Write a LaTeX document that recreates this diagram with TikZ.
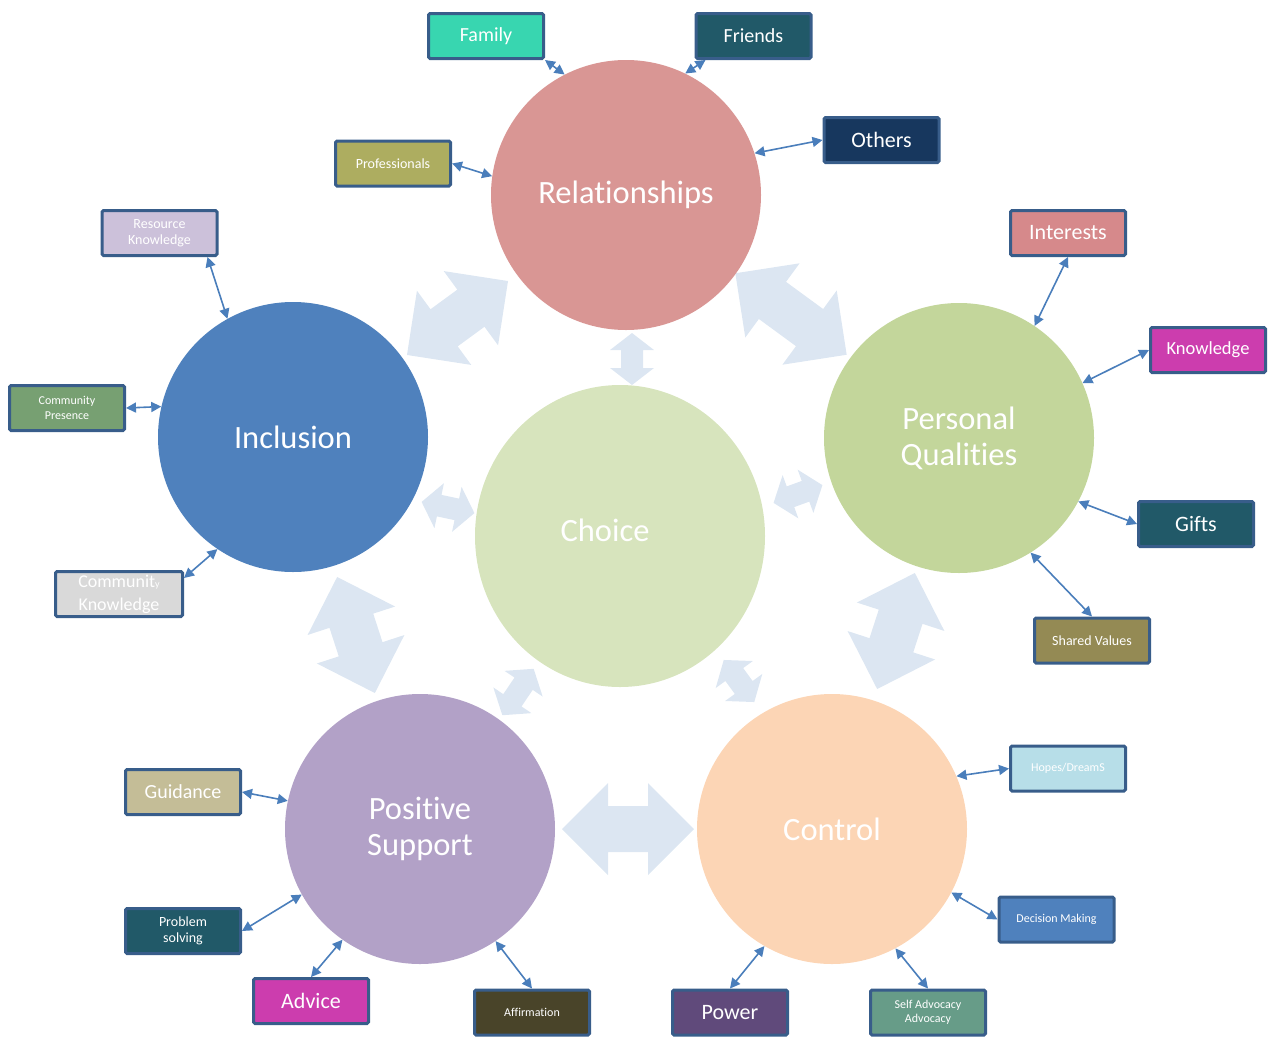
\documentclass[tikz,border=0pt]{standalone}
\usepackage{fontspec}
\setmainfont{Carlito}[Ligatures={NoCommon,NoContextual,NoRare}]
\usetikzlibrary{shapes.geometric,arrows.meta,calc}
\definecolor{relc}{HTML}{D99694}
\definecolor{choicec}{HTML}{D7E4BD}
\definecolor{pqc}{HTML}{C3D69B}
\definecolor{inclc}{HTML}{4F81BD}
\definecolor{posc}{HTML}{B2A1C7}
\definecolor{ctrlc}{HTML}{FCD5B5}
\definecolor{arrowc}{HTML}{DCE6F2}
\definecolor{bordc}{HTML}{385D8A}
\definecolor{connc}{HTML}{4A7EBB}
\definecolor{familyc}{HTML}{38D6B0}
\definecolor{tealc}{HTML}{215968}
\definecolor{navyc}{HTML}{17375E}
\definecolor{olivec}{HTML}{ADAD60}
\definecolor{lavc}{HTML}{CCC1DA}
\definecolor{cpc}{HTML}{77A072}
\definecolor{grayc}{HTML}{D9D9D9}
\definecolor{interc}{HTML}{D6898B}
\definecolor{magc}{HTML}{CC3DAE}
\definecolor{khakic}{HTML}{948A54}
\definecolor{lbluec}{HTML}{B7DEE8}
\definecolor{decc}{HTML}{4F81BD}
\definecolor{sagec}{HTML}{679C88}
\definecolor{purpc}{HTML}{604A7B}
\definecolor{brownc}{HTML}{494429}
\definecolor{guidc}{HTML}{C4BD97}
\newcommand{\blockarrow}[7]{%
  \begin{scope}[shift={(#1,#2)},rotate=#3]
    \fill[arrowc] (-#4,0) -- ({-#4+#5},#6) -- ({-#4+#5},#7) -- ({#4-#5},#7) -- ({#4-#5},#6) -- (#4,0)
      -- ({#4-#5},-#6) -- ({#4-#5},-#7) -- ({-#4+#5},-#7) -- ({-#4+#5},-#6) -- cycle;
  \end{scope}}
\tikzset{
  circ/.style={circle, minimum size=270pt, inner sep=0pt, text=white, align=center,
    font=\fontsize{32.5}{36}\selectfont},
  box/.style={draw=bordc, line width=3pt, rounded corners=1.5pt, minimum width=115pt,
    minimum height=45pt, inner sep=1pt, text=white, align=center},
  big/.style={box, font=\fontsize{21}{24}\selectfont},
  mid/.style={box, font=\fontsize{14}{16.5}\selectfont},
  sml/.style={box, font=\fontsize{12}{14.5}\selectfont},
  conn/.style={draw=connc, line width=1.6pt, {Triangle[length=10pt,width=10pt]}-{Triangle[length=10pt,width=10pt]}}
}
\begin{document}
\begin{tikzpicture}[x=1pt,y=-1pt]
\useasboundingbox (0,0) rectangle (1270,1037);
% block arrows
\blockarrow{457.5}{318}{36.2}{62.6}{46}{46}{23}
\blockarrow{791}{314}{-36.2}{69}{46}{46}{23}
\blockarrow{632}{359}{90}{26}{17}{22}{11}
\blockarrow{448}{507.5}{-12}{27}{18}{23}{11}
\blockarrow{798}{494}{20}{26}{18}{23}{11}
\blockarrow{356}{635}{-72}{61}{46}{46}{23}
\blockarrow{518}{692}{56}{28}{18}{23}{11}
\blockarrow{739}{681}{-54}{26}{18}{23}{11}
\blockarrow{896}{631}{72}{61}{46}{46}{23}
\blockarrow{628}{829}{0}{66}{46}{46}{23}
% circles
\node[circ, fill=relc] (rel) at (626,195) {Relationships};
\node[ellipse, minimum width=290pt, minimum height=302pt, inner sep=0pt, fill=choicec] (choice) at (620,536) {};
\node[text=white, font=\fontsize{32.5}{36}\selectfont, inner sep=0pt] (choicetxt) at (605,530) {Choice};
\node[circ, fill=pqc] (pq) at (959,438) {Personal\\Qualities};
\node[circ, fill=inclc] (incl) at (293,437) {Inclusion};
\node[circ, fill=posc] (pos) at (420,829) {Positive\\Support};
\node[circ, fill=ctrlc] (ctrl) at (832,829) {Control};
% boxes
\node[big, fill=familyc, font=\fontsize{20}{24}\selectfont] (family) at (486,36) {Family};
\node[big, fill=tealc, font=\fontsize{20}{24}\selectfont] (friends) at (753.5,36) {Friends};
\node[big, fill=navyc, font=\fontsize{22}{24}\selectfont] (others) at (881.5,140) {Others};
\node[mid, fill=olivec] (prof) at (393,163.5) {Professionals};
\node[mid, fill=lavc] (res) at (159.5,233) {Resource\\Knowledge};
\node[sml, fill=cpc] (cpres) at (67,408) {Community\\Presence};
\node[box, fill=grayc, minimum width=127pt, font=\fontsize{18}{23}\selectfont] (cknow) at (119,594) {Communit{\fontsize{10}{10}\selectfont y}\\Knowledge};
\node[big, fill=interc, font=\fontsize{22}{24}\selectfont] (inter) at (1068,233) {Interests};
\node[big, fill=magc, font=\fontsize{18.5}{24}\selectfont] (know) at (1208,350) {Knowledge};
\node[big, fill=tealc, font=\fontsize{22}{24}\selectfont] (gifts) at (1196,524) {Gifts};
\node[mid, fill=khakic] (shared) at (1092,640.5) {Shared Values};
\node[sml, fill=lbluec] (hopes) at (1068,768.5) {Hopes/DreamS};
\node[sml, fill=decc] (dec) at (1056.5,919.5) {Decision Making};
\node[sml, fill=sagec] (selfadv) at (928,1012.5) {Self Advocacy\\Advocacy};
\node[big, fill=purpc, font=\fontsize{22}{24}\selectfont] (power) at (730,1012.5) {Power};
\node[sml, fill=brownc] (affirm) at (532,1012.5) {Affirmation};
\node[big, fill=magc, font=\fontsize{22}{24}\selectfont] (advice) at (311,1001) {Advice};
\node[mid, fill=tealc] (probs) at (183,931) {Problem\\solving};
\node[big, fill=guidc, font=\fontsize{20}{24}\selectfont] (guid) at (183,792) {Guidance};
% connectors
\draw[conn] (family.south east) -- (rel.117);
\draw[conn] ([xshift=11pt]friends.south west) -- (rel.64);
\draw[conn] (others.west) -- (rel.18);
\draw[conn] (prof.east) -- (rel.172);
\draw[conn] ([xshift=-11pt]res.south east) -- (incl.119);
\draw[conn] (cpres.east) -- (incl.167);
\draw[conn] ([yshift=-8pt]cknow.north east) -- (incl.236);
\draw[conn] (inter.south) -- (pq.56);
\draw[conn] (know.west) -- (pq.24);
\draw[conn] (gifts.west) -- (pq.-28);
\draw[conn] (shared.north) -- (pq.-58);
\draw[conn] (hopes.west) -- (ctrl.23);
\draw[conn] (dec.west) -- (ctrl.-28);
\draw[conn] (selfadv.north) -- (ctrl.-62);
\draw[conn] (power.north) -- (ctrl.240);
\draw[conn] (affirm.north) -- (pos.-56);
\draw[conn] (advice.north) -- (pos.235);
\draw[conn] (probs.east) -- (pos.209);
\draw[conn] (guid.east) -- (pos.168);
\end{tikzpicture}
\end{document}
